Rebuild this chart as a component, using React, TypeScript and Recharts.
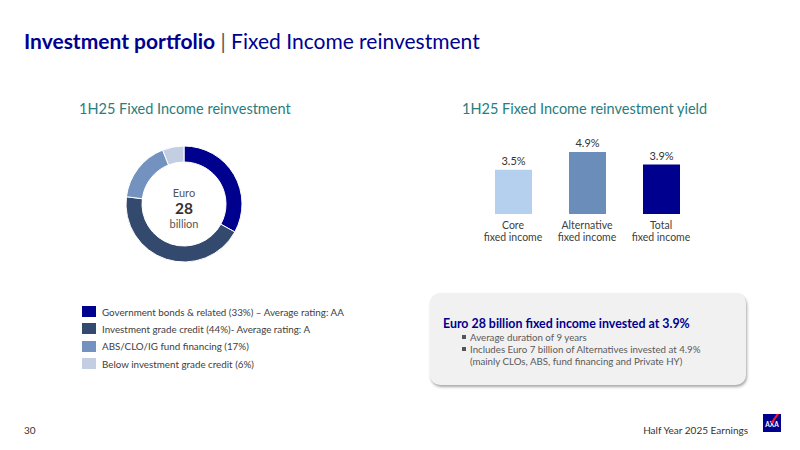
import React from "react";
import { PieChart, Pie, Cell, BarChart, Bar, XAxis, YAxis, LabelList } from "recharts";

const mixLabels = [
  "Government bonds & related (33%) – Average rating: AA",
  "Investment grade credit (44%)- Average rating: A",
  "ABS/CLO/IG fund financing (17%)",
  "Below investment grade credit (6%)",
];
const mixValues = [33, 44, 17, 6];
const mixColors = ["#00008F", "#34496E", "#7392BF", "#C3CEE3"];

const yieldCategories = ["Core\nfixed income", "Alternative\nfixed income", "Total\nfixed income"];
const yieldValues = [3.5, 4.9, 3.9];
const yieldColors = ["#B5CFEE", "#6B8DBA", "#00008F"];

const bullets = [
  "Average duration of 9 years",
  "Includes Euro 7 billion of Alternatives invested at 4.9%\n(mainly CLOs, ABS, fund financing and Private HY)",
];

const FONT = "Lato, 'Noto Sans', sans-serif";
const NAVY = "#00008F";
const TEAL = "#2A7C7E";
const GREY = "#404040";

const pieData = mixLabels.map((name, i) => ({ name, value: mixValues[i] }));
const barData = yieldCategories.map((name, i) => ({ name, value: yieldValues[i] }));

const CatTick = (props: any) => {
  const { x, y, payload } = props;
  const lines = String(payload.value).split("\n");
  return (
    <g>
      {lines.map((l: string, i: number) => (
        <text key={i} x={x} y={y + 7 + i * 12} textAnchor="middle" fontSize={10.5} fill={GREY} fontFamily={FONT}>
          {l}
        </text>
      ))}
    </g>
  );
};

export default function App() {
  return (
    <div
      style={{
        position: "absolute",
        left: 0,
        top: 0,
        width: 800,
        height: 450,
        background: "#fff",
        overflow: "hidden",
        fontFamily: FONT,
      }}
    >
      <div style={{ position: "absolute", left: 24, top: 28, fontSize: 21, color: NAVY, whiteSpace: "nowrap" }}>
        <span style={{ fontWeight: 700 }}>Investment portfolio</span>
        <span style={{ color: "#555" }}> | </span>
        <span>Fixed Income reinvestment</span>
      </div>

      <div style={{ position: "absolute", left: 79, top: 100, fontSize: 14.5, color: TEAL, whiteSpace: "nowrap" }}>
        1H25 Fixed Income reinvestment
      </div>
      <div style={{ position: "absolute", left: 462, top: 100, fontSize: 14.5, color: TEAL, whiteSpace: "nowrap" }}>
        1H25 Fixed Income reinvestment yield
      </div>

      <div style={{ position: "absolute", left: 114, top: 134 }}>
        <PieChart width={140} height={140} margin={{ top: 0, right: 0, bottom: 0, left: 0 }}>
          <Pie
            data={pieData}
            dataKey="value"
            cx="50%"
            cy="50%"
            innerRadius={42}
            outerRadius={58}
            startAngle={90}
            endAngle={-270}
            stroke="#fff"
            strokeWidth={1}
            isAnimationActive={false}
          >
            {pieData.map((d, i) => (
              <Cell key={i} fill={mixColors[i]} />
            ))}
          </Pie>
        </PieChart>
      </div>
      <div style={{ position: "absolute", left: 144, top: 186, width: 80, textAlign: "center", color: "#555" }}>
        <div style={{ fontSize: 11, lineHeight: "14px" }}>Euro</div>
        <div style={{ fontSize: 15.5, fontWeight: 700, lineHeight: "17px", color: "#333" }}>28</div>
        <div style={{ fontSize: 11, lineHeight: "14px" }}>billion</div>
      </div>

      <div style={{ position: "absolute", left: 476, top: 120 }}>
        <BarChart width={222} height={136} data={barData} margin={{ top: 18, right: 0, bottom: 0, left: 0 }} barCategoryGap={0}>
          <XAxis dataKey="name" axisLine={false} tickLine={false} height={42} interval={0} tick={<CatTick />} />
          <YAxis hide domain={[0, 6]} />
          <Bar dataKey="value" barSize={37} isAnimationActive={false}>
            {barData.map((d, i) => (
              <Cell key={i} fill={yieldColors[i]} />
            ))}
            <LabelList
              dataKey="value"
              position="top"
              offset={5}
              formatter={(v: any) => `${Number(v).toFixed(1)}%`}
              style={{ fontSize: 11, fill: "#333", fontFamily: FONT }}
            />
          </Bar>
        </BarChart>
      </div>

      <div style={{ position: "absolute", left: 82, top: 303 }}>
        {mixLabels.map((l, i) => (
          <div key={i} style={{ display: "flex", alignItems: "center", height: 17.3 }}>
            <div style={{ width: 14, height: 11, background: mixColors[i], marginRight: 6 }} />
            <div style={{ fontSize: 9.8, color: GREY, whiteSpace: "nowrap" }}>{l}</div>
          </div>
        ))}
      </div>

      <div
        style={{
          position: "absolute",
          left: 430,
          top: 293,
          width: 316,
          height: 92,
          background: "#F1F1F1",
          borderRadius: 10,
          boxShadow: "1px 2px 3px rgba(0,0,0,0.35)",
        }}
      >
        <div style={{ position: "absolute", left: 13, top: 23, fontSize: 12.4, fontWeight: 700, color: NAVY, whiteSpace: "nowrap" }}>
          Euro 28 billion fixed income invested at 3.9%
        </div>
        <div style={{ position: "absolute", left: 32, top: 38, fontSize: 9.7, color: "#5a5a5a", lineHeight: "12px" }}>
          {bullets.map((b, i) => (
            <div key={i} style={{ display: "flex" }}>
              <div style={{ width: 8, flex: "none", marginLeft: 0 }}>
                <div style={{ width: 4, height: 4, background: "#555", marginTop: 4 }} />
              </div>
              <div style={{ whiteSpace: "pre", marginLeft: 0 }}>{b}</div>
            </div>
          ))}
        </div>
      </div>

      <div style={{ position: "absolute", left: 24, top: 424, fontSize: 10, color: "#333" }}>30</div>
      <div style={{ position: "absolute", right: 52, top: 424, fontSize: 10, color: "#333", whiteSpace: "nowrap" }}>
        Half Year 2025 Earnings
      </div>
      <div
        style={{
          position: "absolute",
          left: 763,
          top: 414,
          width: 18,
          height: 18,
          background: NAVY,
          overflow: "hidden",
        }}
      >
        <div style={{ position: "absolute", left: 0, top: 7, width: 18, textAlign: "center", fontSize: 6.5, fontWeight: 700, color: "#fff" }}>
          AXA
        </div>
        <div style={{ position: "absolute", left: 11, top: -2, width: 1.5, height: 12, background: "#FF1721", transform: "rotate(35deg)" }} />
      </div>
    </div>
  );
}
